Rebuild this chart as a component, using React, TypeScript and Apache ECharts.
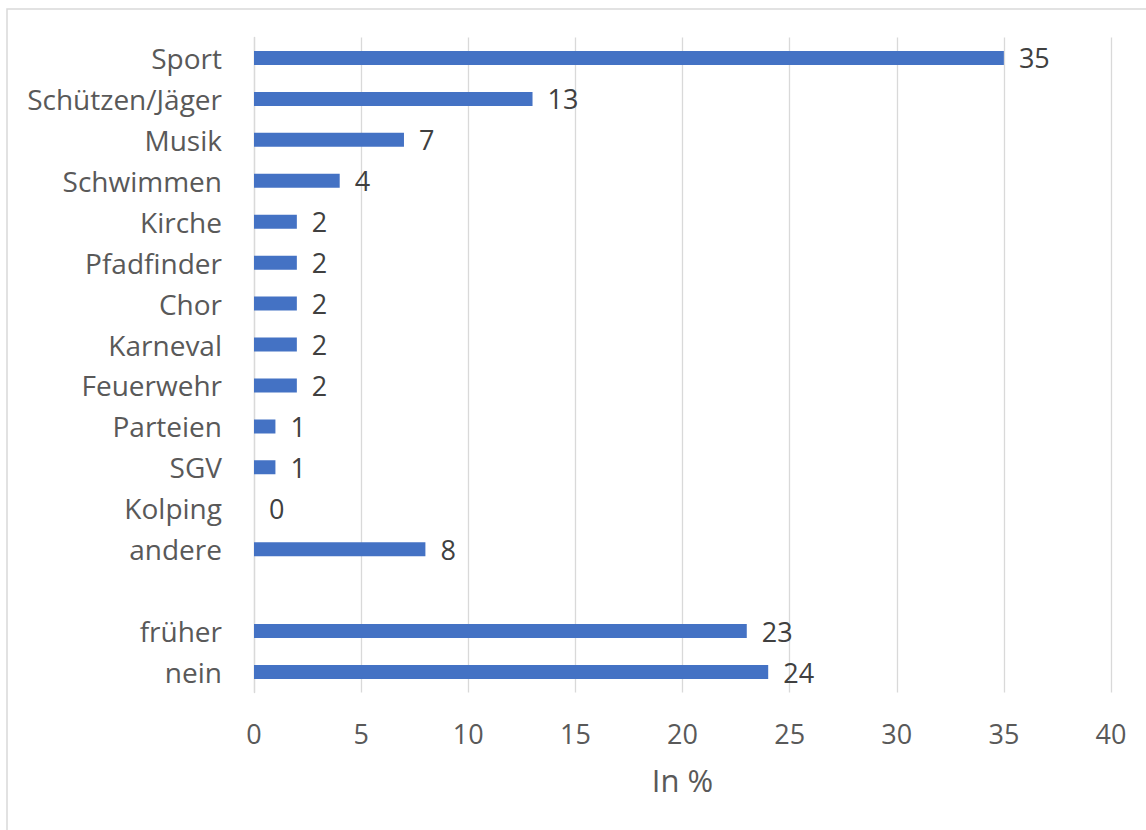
import React, { useEffect, useRef } from "react";
import * as echarts from "echarts";

const categories = [
  "Sport", "Schützen/Jäger", "Musik", "Schwimmen", "Kirche", "Pfadfinder", "Chor",
  "Karneval", "Feuerwehr", "Parteien", "SGV", "Kolping", "andere", "", "früher", "nein",
];
const values: (number | null)[] = [35, 13, 7, 4, 2, 2, 2, 2, 2, 1, 1, 0, 8, null, 23, 24];
const xTicks = { min: 0, max: 40, interval: 5 };
const axisTitle = "In %";

export default function App() {
  const ref = useRef<HTMLDivElement>(null);
  useEffect(() => {
    const chart = echarts.init(ref.current!, undefined, { renderer: "svg" });
    const font = "'Open Sans', 'Noto Sans', sans-serif";
    chart.setOption({
      animation: false,
      backgroundColor: "#ffffff",
      textStyle: { fontFamily: font },
      graphic: [
        {
          type: "rect",
          shape: { x: 7, y: 9, width: 1160, height: 840 },
          style: { fill: "none", stroke: "#d9d9d9", lineWidth: 1.5 },
          silent: true,
          z: -1,
        },
      ],
      grid: { left: 254, right: 35, top: 37.5, bottom: 137.5, containLabel: false },
      xAxis: {
        type: "value",
        min: xTicks.min,
        max: xTicks.max,
        interval: xTicks.interval,
        axisLine: { show: false },
        axisTick: { show: false },
        splitLine: { lineStyle: { color: "#d9d9d9", width: 1.3 } },
        axisLabel: { color: "#595959", fontSize: 27, margin: 27, fontFamily: font },
        name: axisTitle,
        nameLocation: "middle",
        nameGap: 72,
        nameTextStyle: { color: "#595959", fontSize: 31, fontFamily: font },
      },
      yAxis: {
        type: "category",
        inverse: true,
        data: categories,
        axisLine: { show: true, lineStyle: { color: "#d9d9d9", width: 1.3 } },
        axisTick: { show: false },
        axisLabel: { color: "#595959", fontSize: 28, margin: 32, fontFamily: font },
      },
      series: [
        {
          type: "bar",
          data: values,
          barWidth: 14,
          itemStyle: { color: "#4472C4" },
          label: {
            show: true,
            position: "right",
            distance: 15,
            color: "#404040",
            fontSize: 27,
            fontFamily: font,
            formatter: (p: any) => (p.value === null || p.value === undefined ? "" : String(p.value)),
          },
        },
      ],
    });
    return () => chart.dispose();
  }, []);
  return (
    <div
      ref={ref}
      style={{ position: "fixed", left: 0, top: 0, width: 1146, height: 830 }}
    />
  );
}
